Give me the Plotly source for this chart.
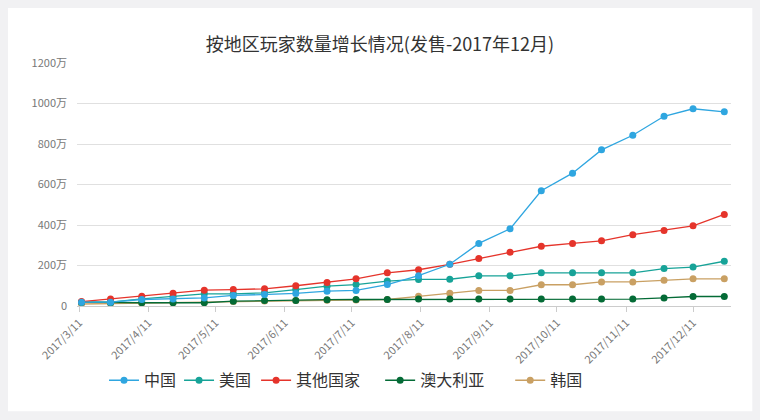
import plotly.graph_objects as go

dates = ["2017-03-12", "2017-03-25", "2017-04-08", "2017-04-22", "2017-05-06", "2017-05-19",
         "2017-06-02", "2017-06-16", "2017-06-30", "2017-07-13", "2017-07-27", "2017-08-10",
         "2017-08-24", "2017-09-06", "2017-09-20", "2017-10-04", "2017-10-18", "2017-10-31",
         "2017-11-14", "2017-11-28", "2017-12-11", "2017-12-25"]

china = [19, 19, 32, 35, 40, 52, 57, 62, 73, 77, 106, 150, 206, 309, 381, 569, 656, 771, 843, 937, 974, 959]
usa = [19, 19, 35, 48, 60, 60, 65, 81, 98, 106, 123, 131, 132, 149, 149, 164, 164, 164, 164, 185, 192, 221]
other = [22, 35, 48, 63, 78, 81, 85, 100, 116, 134, 164, 179, 206, 235, 266, 295, 309, 322, 352, 373, 396, 452]
australia = [19, 16, 16, 16, 16, 24, 27, 27, 31, 32, 32, 34, 34, 34, 34, 34, 34, 34, 34, 40, 47, 47]
korea = [10, 12, 14, 16, 18, 22, 25, 27, 29, 30, 32, 48, 63, 77, 77, 105, 105, 119, 119, 127, 134, 134]

x_tick_vals = ["2017-03-11", "2017-04-11", "2017-05-11", "2017-06-11", "2017-07-11",
               "2017-08-11", "2017-09-11", "2017-10-11", "2017-11-11", "2017-12-11"]
x_tick_text = ["2017/3/11", "2017/4/11", "2017/5/11", "2017/6/11", "2017/7/11",
               "2017/8/11", "2017/9/11", "2017/10/11", "2017/11/11", "2017/12/11"]
y_tick_vals = [0, 200, 400, 600, 800, 1000, 1200]
y_tick_text = ["0", "200万", "400万", "600万", "800万", "1000万", "1200万"]

title = "按地区玩家数量增长情况(发售-2017年12月)"

# (name, values, color, legend id, legend x px)
series = [
    ("韩国", korea, "#c9a063", "legend5", 510),
    ("澳大利亚", australia, "#046b36", "legend4", 380),
    ("美国", usa, "#17a398", "legend2", 179),
    ("其他国家", other, "#e5342b", "legend3", 256),
    ("中国", china, "#2fa6e0", "legend", 104),
]

L, R, T, B = 77, 730.7, 63, 306.5
W, H = R - L, B - T

def px2x(p):
    return (p - L) / W

def py2y(p):
    return (B - p) / H

fig = go.Figure()
for name, vals, color, leg, lx in series:
    fig.add_trace(go.Scatter(
        x=dates, y=vals, name=name, mode="lines+markers",
        line=dict(color=color, width=1.3),
        marker=dict(color=color, size=7),
        legend=leg,
    ))

leg_common = dict(orientation="h", yanchor="middle", y=py2y(381), xanchor="left",
                  font=dict(family="Noto Sans CJK SC", size=16, color="#333"),
                  bgcolor="rgba(0,0,0,0)", itemwidth=30)
layout_legends = {}
for name, vals, color, leg, lx in series:
    layout_legends[leg] = dict(leg_common, x=px2x(lx))

fig.update_layout(
    width=760, height=420,
    margin=dict(l=L, r=760 - R, t=T, b=420 - B, autoexpand=False),
    paper_bgcolor="#f1f1f3",
    plot_bgcolor="rgba(0,0,0,0)",
    font=dict(family="Noto Sans CJK SC", color="#666"),
    title=dict(text=title, x=0.5, xanchor="center", y=1 - 45 / 420, yanchor="middle",
               font=dict(family="Noto Sans CJK SC", size=18, color="#333")),
    showlegend=True,
    shapes=[dict(type="rect", xref="paper", yref="paper",
                 x0=px2x(8), x1=px2x(752), y0=py2y(412), y1=py2y(8),
                 fillcolor="white", line=dict(width=0), layer="below")],
    xaxis=dict(type="date", range=["2017-03-09 23:15", "2017-12-28 00:00"],
               tickvals=x_tick_vals, ticktext=x_tick_text, tickangle=-45,
               tickfont=dict(size=11, color="#777"), showgrid=False,
               showline=True, linecolor="#ccc", linewidth=1,
               ticks="outside", ticklen=5, tickcolor="#ccc", zeroline=False),
    yaxis=dict(range=[0, 1200], tickvals=y_tick_vals, ticktext=y_tick_text,
               tickfont=dict(size=11, color="#777"), showgrid=True,
               gridcolor="#e0e0e0", gridwidth=1, zeroline=False, showline=False,
               ticks="", ticklabelstandoff=9),
    **layout_legends,
)

fig.write_html("out.html", config={"displayModeBar": False},
               post_script="document.body.style.margin='0';document.body.style.overflow='hidden';")
